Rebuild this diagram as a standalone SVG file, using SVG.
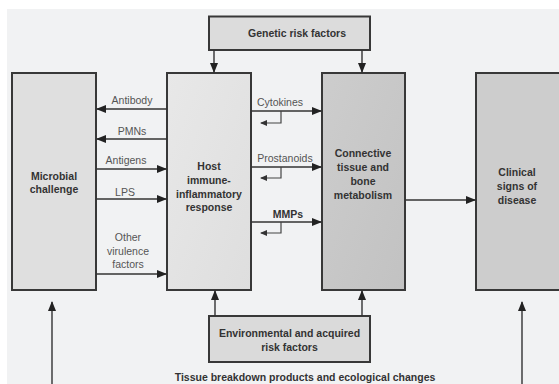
<svg xmlns="http://www.w3.org/2000/svg" width="559" height="384" viewBox="0 0 559 384">
<style>
.box{stroke:#383838;stroke-width:2}
.bt{font-family:"Liberation Sans",Arial,sans-serif;font-weight:bold;font-size:10.5px;fill:#333;text-anchor:middle}
.lb{font-family:"Liberation Sans",Arial,sans-serif;font-size:10.5px;fill:#555;text-anchor:middle}
.ln{fill:none;stroke:#333;stroke-width:1.4}
.sm{fill:none;stroke:#444;stroke-width:1.2}
</style>
<defs>
<marker id="ah" markerWidth="10" markerHeight="8" refX="9" refY="4" orient="auto" markerUnits="userSpaceOnUse">
<path d="M0,0 L10,4 L0,8 Z" fill="#222"/>
</marker>
<marker id="as" markerWidth="7" markerHeight="6" refX="6" refY="3" orient="auto" markerUnits="userSpaceOnUse">
<path d="M0,0 L7,3 L0,6 Z" fill="#333"/>
</marker>
<linearGradient id="gHost" x1="0" y1="0" x2="1" y2="1">
<stop offset="0" stop-color="#e8e8e8"/><stop offset="1" stop-color="#dedede"/>
</linearGradient>
<linearGradient id="gConn" x1="0" y1="0" x2="1" y2="1">
<stop offset="0" stop-color="#cdcdcd"/><stop offset="1" stop-color="#c2c2c2"/>
</linearGradient>
</defs>
<rect x="0" y="0" width="559" height="384" fill="#ffffff"/>
<rect x="7" y="9" width="552" height="375" fill="#f1f2f3"/>

<g id="genetic">
<rect class="box" x="209" y="16.5" width="161" height="33.5" fill="#dcdcdc"/>
<text class="bt" x="297" y="37">Genetic risk factors</text>
</g>
<g id="microbial">
<rect class="box" x="12" y="73" width="84" height="217" fill="#dfdfdf"/>
<text class="bt" x="54" y="180">Microbial</text>
<text class="bt" x="54" y="193">challenge</text>
</g>
<g id="host">
<rect class="box" x="167" y="73" width="84" height="217" fill="url(#gHost)"/>
<text class="bt" x="209" y="170">Host</text>
<text class="bt" x="209" y="184">immune-</text>
<text class="bt" x="209" y="198">inflammatory</text>
<text class="bt" x="209" y="211">response</text>
</g>
<g id="connective">
<rect class="box" x="322" y="73" width="83" height="217" fill="url(#gConn)"/>
<text class="bt" x="363" y="157">Connective</text>
<text class="bt" x="363" y="171">tissue and</text>
<text class="bt" x="363" y="185">bone</text>
<text class="bt" x="363" y="199">metabolism</text>
</g>
<g id="clinical">
<rect class="box" x="476" y="73" width="90" height="217" fill="#cdcdcd"/>
<text class="bt" x="517" y="176">Clinical</text>
<text class="bt" x="517" y="190">signs of</text>
<text class="bt" x="517" y="204">disease</text>
</g>
<g id="environmental">
<rect class="box" x="209" y="316" width="161" height="46" fill="#dadada"/>
<text class="bt" x="289.5" y="337">Environmental and acquired</text>
<text class="bt" x="289.5" y="351">risk factors</text>
</g>
<g id="footer">
<text class="bt" x="305" y="380.5">Tissue breakdown products and ecological changes</text>
</g>

<g id="connectors">
<line class="ln" x1="214" y1="50" x2="214" y2="72" marker-end="url(#ah)"/>
<line class="ln" x1="362" y1="50" x2="362" y2="72" marker-end="url(#ah)"/>
<line class="ln" x1="215" y1="316" x2="215" y2="291" marker-end="url(#ah)"/>
<line class="ln" x1="362" y1="316" x2="362" y2="291" marker-end="url(#ah)"/>
<line class="ln" x1="52" y1="384" x2="52" y2="302" marker-end="url(#ah)"/>
<line class="ln" x1="522" y1="384" x2="522" y2="302" marker-end="url(#ah)"/>

<line class="ln" x1="167" y1="109" x2="97" y2="109" marker-end="url(#ah)"/>
<line class="ln" x1="167" y1="139" x2="97" y2="139" marker-end="url(#ah)"/>
<line class="ln" x1="96" y1="169" x2="166" y2="169" marker-end="url(#ah)"/>
<line class="ln" x1="96" y1="199" x2="166" y2="199" marker-end="url(#ah)"/>
<line class="ln" x1="96" y1="274" x2="166" y2="274" marker-end="url(#ah)"/>

<line class="ln" x1="251" y1="111" x2="321" y2="111" marker-end="url(#ah)"/>
<line class="ln" x1="251" y1="167" x2="321" y2="167" marker-end="url(#ah)"/>
<line class="ln" x1="251" y1="222" x2="321" y2="222" marker-end="url(#ah)"/>
<path class="sm" d="M281,111 V123 H261" marker-end="url(#as)"/>
<path class="sm" d="M281,167 V178 H261" marker-end="url(#as)"/>
<path class="sm" d="M281,222 V233 H261" marker-end="url(#as)"/>

<line class="ln" x1="405" y1="200" x2="475" y2="200" marker-end="url(#ah)"/>

<text class="lb" x="132" y="104">Antibody</text>
<text class="lb" x="132" y="135">PMNs</text>
<text class="lb" x="126" y="164">Antigens</text>
<text class="lb" x="125" y="195.5">LPS</text>
<text class="lb" x="128" y="240.5">Other</text>
<text class="lb" x="128" y="254.5">virulence</text>
<text class="lb" x="128" y="268">factors</text>
<text class="lb" x="280" y="105.5">Cytokines</text>
<text class="lb" x="285" y="161.5">Prostanoids</text>
<text class="bt" x="288" y="218">MMPs</text>
</g>
</svg>
